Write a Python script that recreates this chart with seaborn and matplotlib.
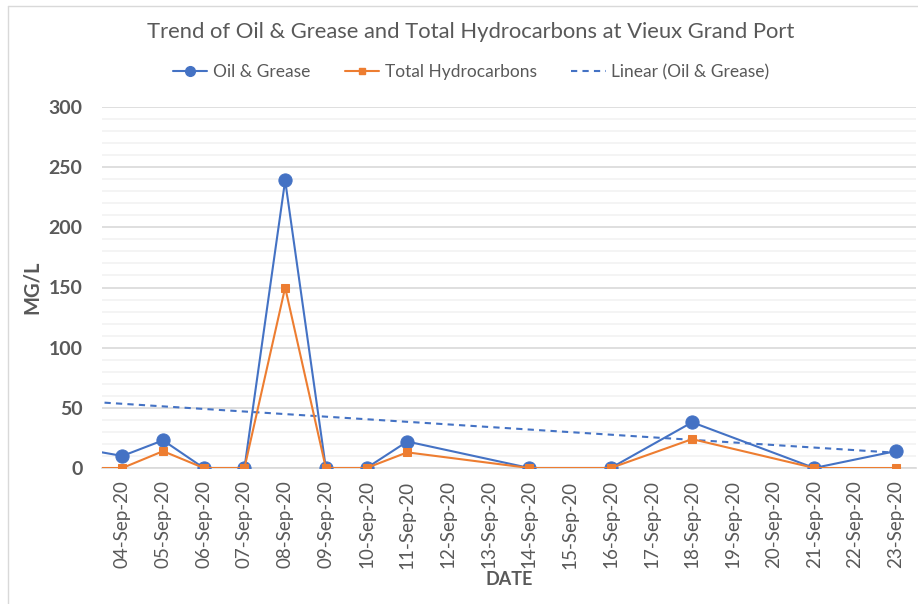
import pandas as pd
import seaborn as sns
import matplotlib.pyplot as plt
import matplotlib.dates as mdates
from matplotlib.ticker import MultipleLocator
from matplotlib.lines import Line2D

# data (03-Sep point sits just outside the axis, only its segment shows)
dates = ["2020-09-03", "2020-09-04", "2020-09-05", "2020-09-06", "2020-09-07", "2020-09-08",
         "2020-09-09", "2020-09-10", "2020-09-11", "2020-09-14", "2020-09-16",
         "2020-09-18", "2020-09-21", "2020-09-23"]
oil_grease = [16, 10, 23, 0, 0, 239, 0, 0, 22, 0, 0, 38, 0, 14]
total_hc = [0, 0, 14, 0, 0, 150, 0, 0, 13, 0, 0, 24, 0, 0]

# Excel linear trendline, values at its two ends
trend_dates = ["2020-09-03", "2020-09-23"]
trend_vals = [55.5, 12.7]

df = pd.DataFrame({"date": pd.to_datetime(dates), "Oil & Grease": oil_grease,
                   "Total Hydrocarbons": total_hc})
df_trend = pd.DataFrame({"date": pd.to_datetime(trend_dates), "trend": trend_vals})

blue = "#4472C4"
orange = "#ED7D31"
grey = "#595959"

sns.set_style("white")
plt.rcParams['font.family'] = ['Lato', 'DejaVu Sans']

fig = plt.figure(figsize=(9.18, 6.04), dpi=100)
ax = fig.add_axes([102 / 918, 1 - 468 / 604, (916 - 102) / 918, (468 - 107) / 604])

sns.lineplot(data=df_trend, x="date", y="trend", ax=ax, color=blue, lw=1.5,
             linestyle=(0, (3, 2.5)), zorder=3)
sns.lineplot(data=df, x="date", y="Oil & Grease", ax=ax, color=blue, lw=1.5,
             marker="o", markersize=9.5, markeredgecolor=blue, zorder=4)
sns.lineplot(data=df, x="date", y="Total Hydrocarbons", ax=ax, color=orange, lw=1.5,
             marker="s", markersize=6, markeredgecolor=orange, zorder=5)

# axis limits: half a day either side of the labelled dates
x0 = mdates.date2num(pd.Timestamp("2020-09-04")) - 0.5
x1 = mdates.date2num(pd.Timestamp("2020-09-23")) + 0.5
ax.set_xlim(x0, x1)
ax.set_ylim(0, 300)

ax.yaxis.set_major_locator(MultipleLocator(50))
ax.yaxis.set_minor_locator(MultipleLocator(10))
ax.grid(which="minor", axis="y", color="#f2f2f2", lw=1.2, zorder=0)
ax.grid(which="major", axis="y", color="#d9d9d9", lw=1.2, zorder=0)

ax.xaxis.set_major_locator(mdates.DayLocator())
ax.xaxis.set_major_formatter(mdates.DateFormatter("%d-%b-%y"))
ax.set_xticks([x0 + i for i in range(21)], minor=True)
ax.tick_params(axis="x", which="major", length=0, pad=9, rotation=90,
               labelsize=13.5, labelcolor=grey)
ax.tick_params(axis="x", which="minor", length=6, color="#d9d9d9", width=1.2)
ax.tick_params(axis="y", which="both", length=0, pad=14, labelsize=14, labelcolor=grey)
for lab in ax.get_yticklabels():
    lab.set_fontweight("bold")

for s in ["top", "right", "left"]:
    ax.spines[s].set_visible(False)
ax.spines["bottom"].set_color("#d9d9d9")
ax.spines["bottom"].set_linewidth(1.2)

ax.set_xlabel("DATE", fontsize=13, fontweight="bold", color=grey, labelpad=2)
ax.set_ylabel("MG/L", fontsize=14.5, fontweight="bold", color=grey, labelpad=5)

fig.suptitle("Trend of Oil & Grease and Total Hydrocarbons at Vieux Grand Port",
             x=471 / 918, y=1 - 32 / 604, va="center", fontsize=15.8, color=grey)

handles = [Line2D([], [], color=blue, lw=1.5, marker="o", markersize=7),
           Line2D([], [], color=orange, lw=1.5, marker="s", markersize=5),
           Line2D([], [], color=blue, lw=1.5, linestyle=(0, (3, 2.5)))]
fig.legend(handles, ["Oil & Grease", "Total Hydrocarbons", "Linear (Oil & Grease)"],
           loc="center", bbox_to_anchor=(471 / 918, 1 - 72 / 604), ncol=3, frameon=False,
           fontsize=12.5, labelcolor=grey, handlelength=2.0, handletextpad=0.3,
           columnspacing=2.0)

# chart area frame (left and top edges visible in the reference)
fig.add_artist(Line2D([8 / 918, 8 / 918], [0, 1 - 6 / 604], color="#d9d9d9", lw=1,
                      transform=fig.transFigure))
fig.add_artist(Line2D([8 / 918, 1], [1 - 6 / 604, 1 - 6 / 604], color="#d9d9d9", lw=1,
                      transform=fig.transFigure))

fig.savefig("out.png", dpi=100)
